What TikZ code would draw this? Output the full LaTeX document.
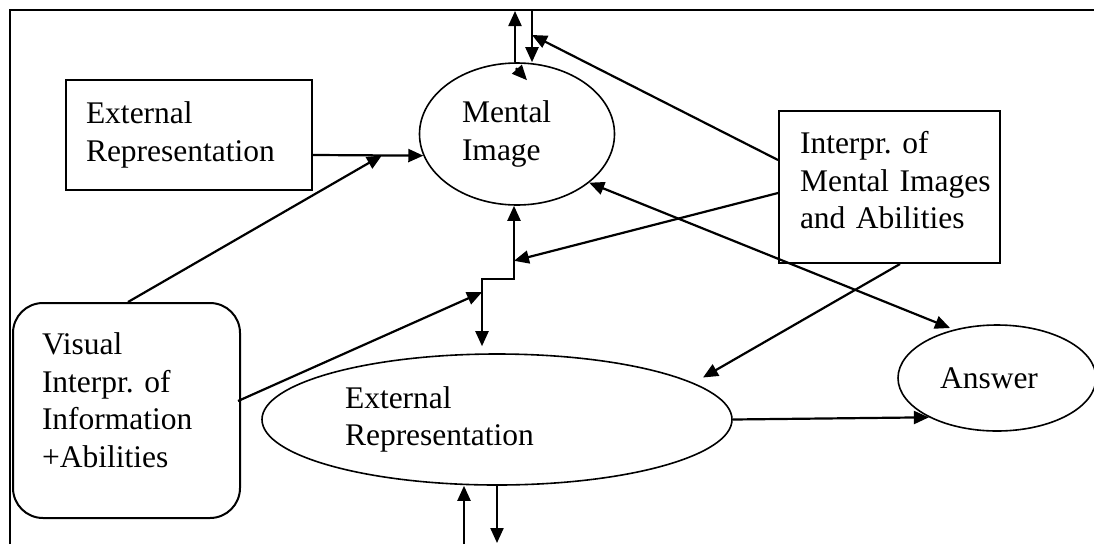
\documentclass[tikz,border=0pt]{standalone}
\usepackage{fontspec}
\setmainfont{Liberation Serif}
\usetikzlibrary{positioning, arrows.meta, shapes.geometric}
\frenchspacing

\begin{document}
\begin{tikzpicture}[x=1pt, y=-1pt,
    font=\fontsize{31.5}{37.5}\selectfont,
    boxnode/.style={draw, line width=2pt, rectangle, align=left, inner ysep=0pt},
    ellnode/.style={draw, line width=1.6pt, ellipse, align=left, inner sep=0pt},
    conn/.style={line width=2.2pt, -{Triangle[length=15pt, width=13pt]}},
    dconn/.style={line width=2.2pt, {Triangle[length=15pt, width=13pt]}-{Triangle[length=15pt, width=13pt]}}]
    \useasboundingbox (0,0) rectangle (1094,544);

    % Frame
    \draw[line width=2.4pt] (10,544) -- (10,10) -- (1094,10);

    % Boxes and ellipses
    \node[boxnode, text width=206pt, inner xsep=20pt, minimum height=110pt] (extbox) at (189,135) {External\\Representation};
    \node[ellnode, text width=110pt, minimum width=195pt, minimum height=142pt] (mental) at (517,134) {Mental\\Image};
    \node[boxnode, text width=179pt, inner xsep=21pt, minimum height=152pt, text depth=89pt] (interp) at (889.5,187) {Interpr. of\\\mbox{Mental Images}\\and Abilities};
    \node[boxnode, rounded corners=30pt, text width=169pt, inner xsep=29pt, minimum height=215pt, text depth=133.5pt] (visual) at (126.5,410.5) {Visual\\Interpr. of\\Information\\+Abilities};
    \node[ellnode, text width=304pt, minimum width=470pt, minimum height=131pt] (extell) at (497,419.5) {External\\Representation};
    \node[ellnode, text width=114pt, minimum width=198pt, minimum height=106pt] (answer) at (997,378) {Answer};

    % Arrows at the top edge
    \coordinate (topL) at (515,11);
    \coordinate (topR) at (532,10);
    \draw[conn] (mental.north -| topL) -- (topL);
    \draw[conn] (topR) -- (mental.north -| topR);
    \draw[conn] ([shift={(-1pt,-6pt)}]mental.north) -- ++(11,12);
    \draw[conn] ([yshift=27pt]interp.west) -- ([yshift=-25pt]topR);

    % External representation into the mental image
    \draw[conn] ([yshift=-20pt]extbox.east) -- coordinate[pos=0.625] (hit1) (mental.193);
    \draw[conn] ([xshift=1.5pt]visual.north) -- (hit1);

    % Step between mental image and external representation
    \draw[dconn] ([xshift=-3pt]mental.south) -- ++(0,73) -| ([shift={(-15pt,7pt)}]extell.north);
    \draw[conn] ([yshift=-6pt]interp.west) -- ([shift={(-3pt,-55pt)}]mental.south);
    \draw[conn] ([shift={(-3pt,9.5pt)}]visual.east) -- ([shift={(-15pt,61pt)}]extell.north);

    % Towards the answer
    \draw[dconn] (mental.326) -- ([shift={(-47pt,50pt)}]answer.center);
    \draw[conn] ([xshift=10.5pt]interp.south) -- ([shift={(206pt,42pt)}]extell.center);
    \draw[conn] (extell.east) -- (answer.210);

    % Arrows at the bottom edge
    \coordinate (botL) at (464,544);
    \coordinate (botR) at (497,543);
    \draw[conn] (botL) -- (extell.south -| botL);
    \draw[conn] (extell.south) -- (botR);
\end{tikzpicture}
\end{document}
